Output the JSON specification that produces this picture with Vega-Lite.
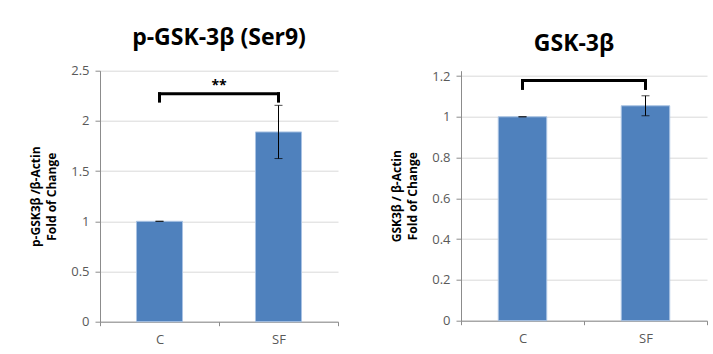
{
  "$schema": "https://vega.github.io/schema/vega-lite/v6.json",
  "autosize": {"type": "none"},
  "padding": {"left": 100, "top": 70.7, "right": 613, "bottom": 283.3},
  "background": "white",
  "bounds": "flush",
  "spacing": 123,
  "config": {
    "font": "Open Sans",
    "view": {"stroke": null},
    "axis": {
      "labelFont": "Open Sans", "labelFontSize": 13, "labelColor": "#595959",
      "domainColor": "#8c8c8c", "tickColor": "#8c8c8c",
      "titleFont": "Open Sans", "titleFontSize": 12, "titleFontWeight": "bold", "titleColor": "black",
      "gridColor": "#d9d9d9"
    },
    "title": {"font": "Open Sans", "fontSize": 23, "fontWeight": "bold", "color": "black", "anchor": "middle", "baseline": "alphabetic"}
  },
  "hconcat": [
    {
      "width": 238, "height": 251,
      "title": {"text": "p-GSK-3β (Ser9)", "offset": 15},
      "encoding": {
        "x": {"field": "group", "type": "nominal", "scale": {"type": "band", "paddingInner": 0, "paddingOuter": 0},
              "axis": {"title": null, "labelAngle": 0, "tickBand": "extent", "tickSize": 4, "labelPadding": 8, "grid": false}},
        "y": {"field": "value", "type": "quantitative", "scale": {"domain": [0, 2.5], "nice": false, "zero": true},
              "axis": {"title": ["p-GSK3β /β-Actin", "Fold of Change"], "values": [0, 0.5, 1, 1.5, 2, 2.5], "format": "~g", "tickSize": 5, "labelPadding": 6, "titlePadding": 12, "titleLineHeight": 16, "grid": true}}
      },
      "layer": [
        {
          "data": {"values": [
            {"group": "C", "value": 1.0, "err": 0},
            {"group": "SF", "value": 1.89, "err": 0.265}
          ]},
          "mark": {"type": "bar", "color": "#4f81bd", "stroke": "#a9c3e3", "strokeWidth": 1, "width": {"band": 0.387}}
        },
        {
          "data": {"values": [
            {"group": "C", "value": 1.0, "err": 0},
            {"group": "SF", "value": 1.89, "err": 0.265}
          ]},
          "mark": {"type": "errorbar", "color": "black", "thickness": 1, "ticks": {"size": 8, "thickness": 1, "color": "black"}},
          "encoding": {"yError": {"field": "err"}}
        },
        {
          "data": {"values": [
            {"group": "C", "value": 2.27, "leg": 2.197},
            {"group": "SF", "value": 2.27, "leg": 2.197}
          ]},
          "mark": {"type": "rule", "color": "black", "strokeWidth": 3, "strokeCap": "square"},
          "encoding": {"y2": {"field": "leg"}}
        },
        {
          "data": {"values": [{"group": "C", "to": "SF", "value": 2.27}]},
          "mark": {"type": "rule", "color": "black", "strokeWidth": 3, "strokeCap": "square"},
          "encoding": {"x2": {"field": "to"}}
        },
        {
          "data": {"values": [{"group": "C", "value": 2.35, "label": "**"}]},
          "mark": {"type": "text", "fontSize": 14, "fontWeight": "bold", "color": "black", "dx": 59.5, "baseline": "middle"},
          "encoding": {"text": {"field": "label"}}
        }
      ]
    },
    {
      "width": 246, "height": 250,
      "title": {"text": "GSK-3β", "offset": 14, "dx": -10},
      "encoding": {
        "x": {"field": "group", "type": "nominal", "scale": {"type": "band", "paddingInner": 0, "paddingOuter": 0},
              "axis": {"title": null, "labelAngle": 0, "tickBand": "extent", "tickSize": 4, "labelPadding": 8, "grid": false}},
        "y": {"field": "value", "type": "quantitative", "scale": {"domain": [0, 1.226], "nice": false, "zero": true},
              "axis": {"title": ["GSK3β / β-Actin", "Fold of Change"], "values": [0, 0.2, 0.4, 0.6, 0.8, 1, 1.2], "format": "~g", "tickSize": 5, "labelPadding": 6, "titlePadding": 12, "titleLineHeight": 16, "grid": true}}
      },
      "layer": [
        {
          "data": {"values": [
            {"group": "C", "value": 1.0, "err": 0},
            {"group": "SF", "value": 1.054, "err": 0.049}
          ]},
          "mark": {"type": "bar", "color": "#4f81bd", "stroke": "#a9c3e3", "strokeWidth": 1, "width": {"band": 0.394}}
        },
        {
          "data": {"values": [
            {"group": "C", "value": 1.0, "err": 0},
            {"group": "SF", "value": 1.054, "err": 0.049}
          ]},
          "mark": {"type": "errorbar", "color": "black", "thickness": 1, "ticks": {"size": 8, "thickness": 1, "color": "black"}},
          "encoding": {"yError": {"field": "err"}}
        },
        {
          "data": {"values": [
            {"group": "C", "value": 1.178, "leg": 1.139},
            {"group": "SF", "value": 1.178, "leg": 1.139}
          ]},
          "mark": {"type": "rule", "color": "black", "strokeWidth": 3, "strokeCap": "square"},
          "encoding": {"y2": {"field": "leg"}}
        },
        {
          "data": {"values": [{"group": "C", "to": "SF", "value": 1.178}]},
          "mark": {"type": "rule", "color": "black", "strokeWidth": 3, "strokeCap": "square"},
          "encoding": {"x2": {"field": "to"}}
        }
      ]
    }
  ]
}
